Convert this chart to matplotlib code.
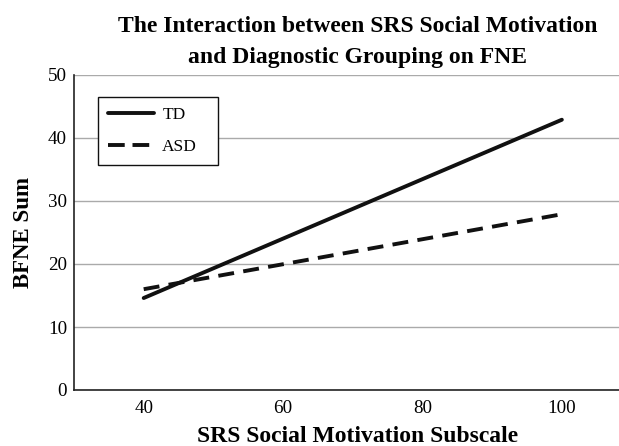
import matplotlib.pyplot as plt

# data
srs = [40, 100]
td = [14.6, 42.9]
asd = [16.0, 27.9]
yticks = [0, 10, 20, 30, 40, 50]
xticks = [40, 60, 80, 100]

plt.rcParams['font.family'] = ['Liberation Serif', 'DejaVu Serif']

fig = plt.figure(figsize=(6.19, 4.46), dpi=100)
ax = fig.add_axes([74 / 619, 1 - 390 / 446, 545 / 619, 315 / 446])

ax.plot(srs, td, color='#111111', lw=2.8, solid_capstyle='round', label='TD')
ax.plot(srs, asd, color='#111111', lw=2.8, dashes=(4.1, 2.4), dash_capstyle='butt', label='ASD')

ax.set_xlim(30, 108.2)
ax.set_ylim(0, 50)
ax.set_xticks(xticks)
ax.set_yticks(yticks)
ax.tick_params(length=0, labelsize=13.7)
ax.tick_params(axis='y', pad=5)
ax.tick_params(axis='x', pad=7)
ax.yaxis.grid(True, color='#aaaaaa', lw=1)
ax.set_axisbelow(True)
for s in ['top', 'right']:
    ax.spines[s].set_visible(False)
for s in ['left', 'bottom']:
    ax.spines[s].set_color('#222222')
    ax.spines[s].set_linewidth(1.2)

ax.set_xlabel('SRS Social Motivation Subscale', fontsize=17, fontweight='bold')
ax.set_ylabel('BFNE Sum', fontsize=16.5, fontweight='bold')
ax.xaxis.set_label_coords((358 - 74) / 545, -0.114)
ax.yaxis.set_label_coords(-0.073, 0.5)

fig.text(358 / 619, 1 - 42 / 446, 'The Interaction between SRS Social Motivation\nand Diagnostic Grouping on FNE',
         ha='center', va='center', fontsize=17, fontweight='bold', linespacing=1.65)

leg = ax.legend(loc='upper left', bbox_to_anchor=(24 / 545, 293 / 315, 120 / 545, 0), mode='expand',
                fontsize=12.5, handlelength=2.7, handletextpad=0.45, labelspacing=0.95, borderpad=0.55,
                fancybox=False, framealpha=1, edgecolor='#111111', borderaxespad=0)
leg.get_frame().set_linewidth(1.0)
leg.get_lines()[1].set_dashes((4.3, 2.0))

fig.savefig('out.png', dpi=100)
